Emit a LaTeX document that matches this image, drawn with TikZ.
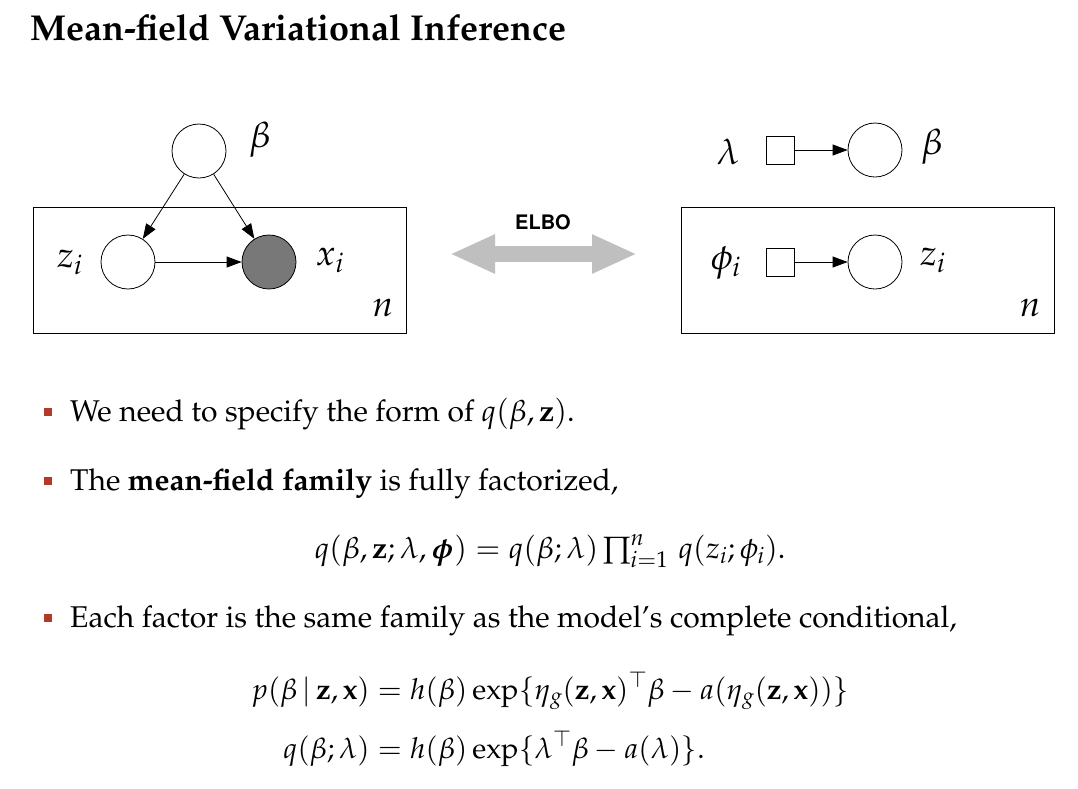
\documentclass[tikz,border=0pt]{standalone}
\usepackage[T1]{fontenc}
\usepackage{mathpazo}
\usepackage{amsmath}
\usepackage{bm}
\usetikzlibrary{arrows.meta}

\definecolor{bulletred}{HTML}{B23A2B}

\tikzset{%
  every variable/.style={
    circle,
    draw,
    line width=0.8pt,
    minimum size=54pt,
    inner sep=0pt
  },
  variable observed/.style={
    fill=black!53
  },
  variable param/.style={
    rectangle,
    minimum size=28pt
  },
  plate/.style={
    draw,
    line width=0.8pt,
    minimum width=373pt,
    minimum height=126pt
  },
  edge/.style={
    -{Triangle[length=15pt,width=11pt]},
    line width=0.8pt
  },
  var label/.style={font=\fontsize{36}{40}\selectfont},
  bullet/.style={fill=bulletred, minimum size=8pt, inner sep=0pt},
  item text/.style={anchor=base west, inner sep=0pt, font=\fontsize{30}{36}\selectfont},
}

\begin{document}
\begin{tikzpicture}[x=1pt, y=-1pt, >=stealth]
\path[fill=white, use as bounding box] (0,0) rectangle (1078,788);

% TITLE
\node [anchor=base west, inner sep=0pt, font=\bfseries\fontsize{36}{40}\selectfont]
  (title) at (30,40) {Mean-field Variational Inference};

% MODEL plate
\node [plate] (plate-p) at (219.5,270) {};
\node [var label] (n-p) at (383,308) {$n$};

% MODEL nodes
\foreach \m/\x/\y/\name in {latent/199/151/beta, latent/128/262/z, observed/269/262/x}
  \node [every variable/.try, variable \m/.try]
    (p-\name) at (\x,\y) {};

% MODEL labels
\foreach \l/\x/\y/\name in {\beta/260/140/beta, z_i/70/262/z, x_i/330/260/x}
  \node [var label] (lab-p-\name) at (\x,\y) {$\l$};

% MODEL edges
\draw [edge] (p-beta) -- (p-z);
\draw [edge] (p-beta) -- (p-x);
\draw [edge] (p-z) -- (p-x);

% ELBO arrow
\coordinate (elbo-left) at (450,254);
\coordinate (elbo-right) at (637,254);
\draw [line width=16pt, gray!50,
  {Triangle[length=45pt,width=36pt]}-{Triangle[length=45pt,width=36pt]}]
  (elbo-left) -- (elbo-right);
\node [font=\usefont{T1}{phv}{b}{n}\fontsize{20}{24}\selectfont]
  (elbo) at (543,222) {ELBO};

% VARIATIONAL plate
\node [plate] (plate-q) at (867.5,270) {};
\node [var label] (n-q) at (1030,308) {$n$};

% VARIATIONAL nodes
\foreach \m/\x/\y/\name in {param/780/150/lambda, latent/875/150/beta,
                            param/780/262/phi, latent/875/262/z}
  \node [every variable/.try, variable \m/.try]
    (q-\name) at (\x,\y) {};

% VARIATIONAL labels
\foreach \l/\x/\y/\name in {\lambda/728/152/lambda, \beta/932/147/beta,
                            \phi_i/726/263/phi, z_i/933/260/z}
  \node [var label] (lab-q-\name) at (\x,\y) {$\l$};

% VARIATIONAL edges
\draw [edge] (q-lambda) -- (q-beta);
\draw [edge] (q-phi) -- (q-z);

% BULLETS
\foreach \y [count=\i] in {412,481,618}
  \node [bullet] (bullet-\i) at (48,\y) {};

\node [item text] (item-1) at (70,421)
  {We need to specify the form of $q(\beta,\mathbf{z})$.};
\node [item text] (item-2) at (70,490)
  {The \textbf{mean-field family} is fully factorized,};
\node [item text] (item-3) at (70,627)
  {Each factor is the same family as the model's complete conditional,};

% EQUATIONS
\node [anchor=base, inner sep=0pt, font=\fontsize{30}{36}\selectfont]
  (eq-q) at (550,558)
  {$q(\beta,\mathbf{z};\lambda,\bm{\phi}) = q(\beta;\lambda)\prod_{i=1}^{n}\, q(z_i;\phi_i).$};

\node [inner sep=0pt, font=\fontsize{29}{35}\selectfont\setlength{\jot}{20pt}]
  (eq-cond) at (550,720)
  {$\begin{aligned}
    p(\beta\,|\,\mathbf{z},\mathbf{x}) &= h(\beta)\exp\{\eta_g(\mathbf{z},\mathbf{x})^{\top}\beta - a(\eta_g(\mathbf{z},\mathbf{x}))\}\\
    q(\beta;\lambda) &= h(\beta)\exp\{\lambda^{\top}\beta - a(\lambda)\}.
  \end{aligned}$};

\end{tikzpicture}
\end{document}
